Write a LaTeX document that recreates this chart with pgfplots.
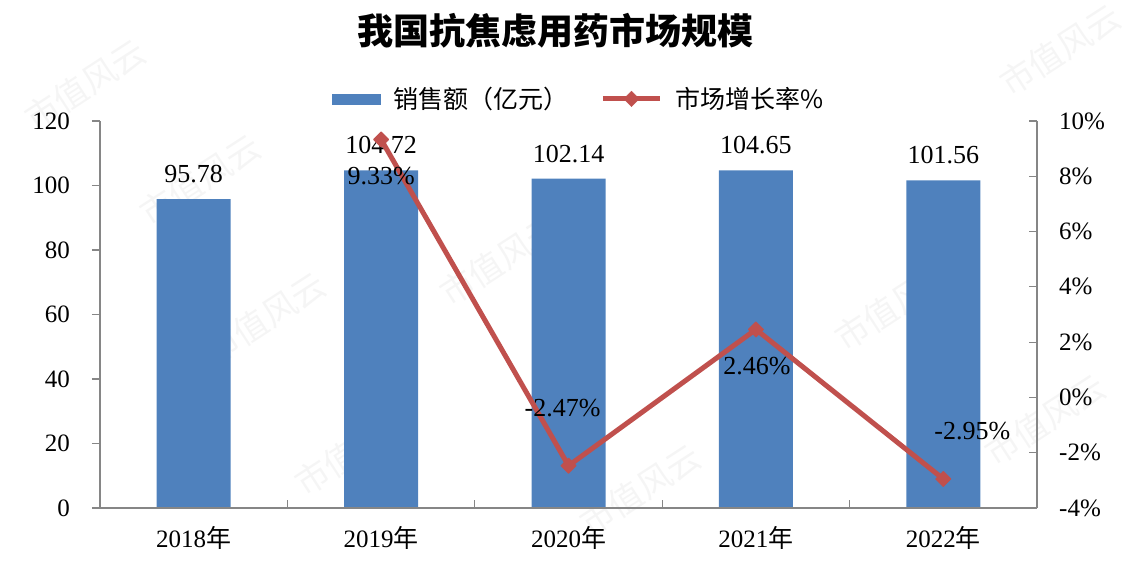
\documentclass[border=0pt]{standalone}
\usepackage{pgfplots}
\pgfplotsset{compat=1.18}
\usepackage{pgfplotstable}
\usepackage{fontspec}
\setmainfont{Liberation Serif}
\newfontfamily\cjk{Noto Sans CJK SC}

\definecolor{barblue}{HTML}{4F81BD}
\definecolor{linered}{HTML}{C0504D}
\definecolor{axgray}{HTML}{868686}

% sales, 100 million yuan
\pgfplotstableread{
x sales
0 95.78
1 104.72
2 102.14
3 104.65
4 101.56
}\salestable

% year-on-year growth, %; dx/dy place each label
\pgfplotstableread{
x growth dx dy
1 9.33 0 -45
2 -2.47 -6 49
3 2.46 1 -45
4 -2.95 29 39
}\growthtable

\newcommand{\tickfont}{\fontsize{25}{30}\selectfont}
\newcommand{\labelfont}{\fontsize{26}{30}\selectfont}

\begin{document}
\begin{tikzpicture}[x=1pt,y=1pt]
\path[use as bounding box] (0,0) rectangle (1132,569);

% faint watermark behind the chart
\begin{scope}[every node/.style={rotate=33, text=gray, opacity=0.08, font=\fontsize{34}{34}\selectfont\cjk}]
\foreach \wx/\wy in {85/484, 265/251, 355/119, 640/79, 895/264, 1060/519, 1045/149, 500/309, 200/389}
  \node at (\wx,\wy) {市值风云};
\end{scope}

\node[font=\fontsize{36}{40}\selectfont\cjk\bfseries, anchor=center] at (555,538) {我国抗焦虑用药市场规模};

% sales bars, left axis
\begin{axis}[
  at={(100pt,61pt)}, anchor=south west,
  scale only axis, width=937pt, height=387pt,
  xmin=-0.5, xmax=4.5, ymin=0, ymax=120,
  ytick={0,20,...,120},
  axis x line=none, axis y line*=left,
  tick align=outside, major tick length=8pt,
  axis line style={draw=axgray, line width=1.2pt},
  ytick style={draw=axgray, line width=1.2pt},
  /pgf/number format/assume math mode=true,
  yticklabel style={font=\tickfont, text=black, anchor=east, inner sep=0pt, xshift=-22pt},
  ybar, bar width=74pt,
  nodes near coords,
  nodes near coords style={font=\labelfont, text=black, anchor=south, inner sep=0pt, yshift=16pt,
    /pgf/number format/.cd, fixed, fixed zerofill, precision=2, assume math mode=true},
]
\addplot[fill=barblue, draw=none] table[x=x, y=sales] {\salestable};
\end{axis}

% growth line, right axis
\begin{axis}[
  at={(100pt,61pt)}, anchor=south west,
  scale only axis, width=937pt, height=387pt,
  xmin=-0.5, xmax=4.5, ymin=-4, ymax=10,
  ytick={-4,-2,...,10},
  axis x line*=bottom, axis y line*=right,
  tick align=inside, major tick length=8pt, minor tick length=8pt,
  axis line style={draw=axgray, line width=1.2pt},
  ytick style={draw=axgray, line width=1.2pt},
  xtick={0,...,4},
  xticklabels={2018{\cjk 年},2019{\cjk 年},2020{\cjk 年},2021{\cjk 年},2022{\cjk 年}},
  major x tick style={draw=none},
  minor xtick={0.5,1.5,2.5,3.5},
  minor x tick style={draw=axgray, line width=1.2pt},
  /pgf/number format/assume math mode=true,
  xticklabel style={font=\tickfont, text=black, anchor=base, inner sep=0pt, yshift=-40pt},
  yticklabel={\pgfmathprintnumber{\tick}\%},
  yticklabel style={font=\tickfont, text=black, anchor=west, inner sep=0pt, xshift=22pt},
  legend style={at={(0.511,1.057)}, anchor=center, draw=none, fill=none,
    font=\fontsize{25}{28}\selectfont\cjk, legend columns=2,
    /tikz/every odd column/.append style={column sep=11pt},
    /tikz/every even column/.append style={column sep=30pt}},
]
\addplot[linered, line width=5pt, line join=round,
  mark=square*, mark size=5.3pt, mark options={rotate=45, solid, fill=linered, draw=linered, line width=1pt},
  visualization depends on={\thisrow{dx} \as \dx},
  visualization depends on={\thisrow{dy} \as \dy},
  nodes near coords={\pgfmathprintnumber[fixed, fixed zerofill, precision=2, assume math mode=true]{\pgfplotspointmeta}\%},
  nodes near coords style={font=\labelfont, text=black, anchor=base, inner sep=0pt, xshift=\dx pt, yshift=\dy pt},
  forget plot]
  table[x=x, y=growth] {\growthtable};
\addlegendimage{legend image code/.code={\fill[barblue] (0pt,-5pt) rectangle (48pt,5pt);}}
\addlegendentry{销售额（亿元）}
\addlegendimage{legend image code/.code={
  \draw[linered, line width=5pt] (0pt,0pt) -- (57pt,0pt);
  \fill[linered, rotate around={45:(28.5pt,0pt)}] (23pt,-5.5pt) rectangle (34pt,5.5pt);}}
\addlegendentry{市场增长率\%}
\end{axis}
\end{tikzpicture}
\end{document}
